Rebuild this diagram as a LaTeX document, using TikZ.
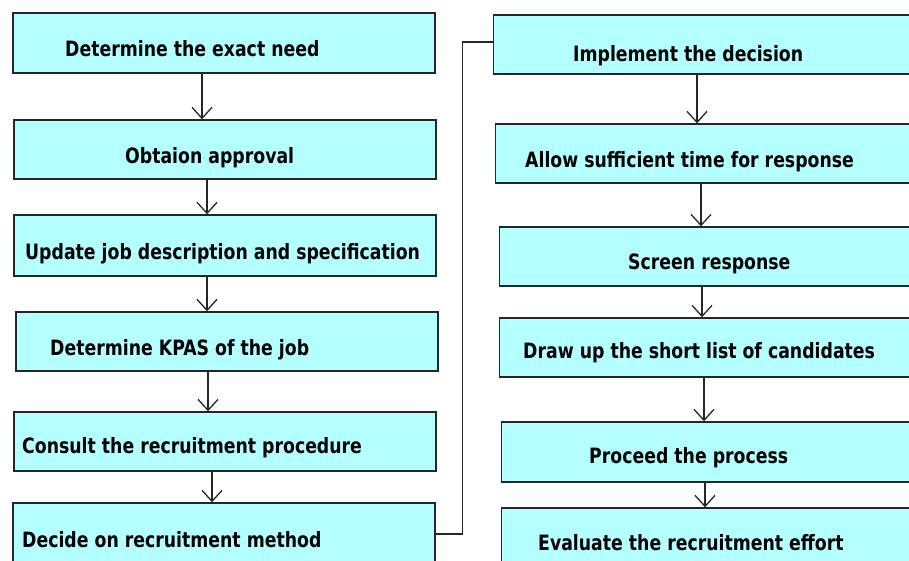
\documentclass[tikz,border=0pt]{standalone}
\usepackage{fontspec}
\setmainfont{DejaVu Sans}
\usetikzlibrary{arrows.meta}
\definecolor{boxfill}{RGB}{180,255,255}
\newcommand{\tallt}[1]{\scalebox{1}[1.22]{#1}}
\tikzset{
  box/.style={draw=black!85, line width=1.4pt, fill=boxfill, rectangle, minimum width=422pt, inner sep=0pt},
  lbl/.style={anchor=base west, inner sep=0pt, font=\fontsize{17.3}{20}\selectfont\bfseries},
  conn/.style={draw=black!85, line width=1.3pt},
  arr/.style={conn, -{Straight Barb[length=11pt,width=20pt,line width=1.3pt]}}
}
\begin{document}
\begin{tikzpicture}[x=1pt,y=-1pt]
\useasboundingbox (0,0) rectangle (909,560);
% left column
\node[box, minimum height=60pt] (b1) at (224,43) {};
\node[box, minimum height=59pt] (b2) at (225,149.5) {};
\node[box, minimum height=61pt] (b3) at (225,245.5) {};
\node[box, minimum height=59pt] (b4) at (227,341.5) {};
\node[box, minimum height=59pt] (b5) at (225,441.5) {};
\node[box, minimum height=62pt] (b6) at (224,534) {};
% right column
\node[box, minimum height=59pt] (b7) at (704.5,44.5) {};
\node[box, minimum height=59pt] (b8) at (706.5,153.5) {};
\node[box, minimum height=59pt] (b9) at (710.5,256.5) {};
\node[box, minimum height=59pt] (b10) at (710.5,347.5) {};
\node[box, minimum height=60pt] (b11) at (712.5,452) {};
\node[box, minimum height=60pt] (b12) at (712.5,538) {};
% labels
\node[lbl] (t1) at (65,56) {\tallt{Determine the exact need}};
\node[lbl] (t2) at (125,163) {\tallt{Obtaion approval}};
\node[lbl] (t3) at (25,259) {\tallt{Update job description and specification}};
\node[lbl] (t4) at (50,355) {\tallt{Determine KPAS of the job}};
\node[lbl] (t5) at (22,453) {\tallt{Consult the recruitment procedure}};
\node[lbl] (t6) at (22,547) {\tallt{Decide on recruitment method}};
\node[lbl] (t7) at (573,61) {\tallt{Implement the decision}};
\node[lbl] (t8) at (525,167) {\tallt{Allow sufficient time for response}};
\node[lbl] (t9) at (628,269) {\tallt{Screen response}};
\node[lbl] (t10) at (523,358) {\tallt{Draw up the short list of candidates}};
\node[lbl] (t11) at (589,463) {\tallt{Proceed the process}};
\node[lbl] (t12) at (538,550) {\tallt{Evaluate the recruitment effort}};
% arrows
\draw[arr] ([xshift=-22pt]b1.south) -- ([xshift=-22pt]b1.south |- b2.north);
\draw[arr] ([xshift=-18pt]b2.south) -- ([xshift=-18pt]b2.south |- b3.north);
\draw[arr] ([xshift=-18pt]b3.south) -- ([xshift=-18pt]b3.south |- b4.north);
\draw[arr] ([xshift=-19pt]b4.south) -- ([xshift=-19pt]b4.south |- b5.north);
\draw[arr] ([xshift=-13pt]b5.south) -- ([xshift=-13pt]b5.south |- b6.north);
\draw[arr] ([xshift=-7.5pt]b7.south) -- ([xshift=-7.5pt]b7.south |- b8.north);
\draw[arr] ([xshift=-5.5pt]b8.south) -- ([xshift=-5.5pt]b8.south |- b9.north);
\draw[arr] ([xshift=-8.5pt]b9.south) -- ([xshift=-8.5pt]b9.south |- b10.north);
\draw[arr] ([xshift=-6.5pt]b10.south) -- ([xshift=-6.5pt]b10.south |- b11.north);
\draw[arr] ([xshift=-7.5pt]b11.south) -- ([xshift=-7.5pt]b11.south |- b12.north);
% connector from left column to right column
\draw[conn] (b6.east) -- ++(27,0) coordinate (turn) |- ([yshift=2.5pt]b7.west);
\end{tikzpicture}
\end{document}
